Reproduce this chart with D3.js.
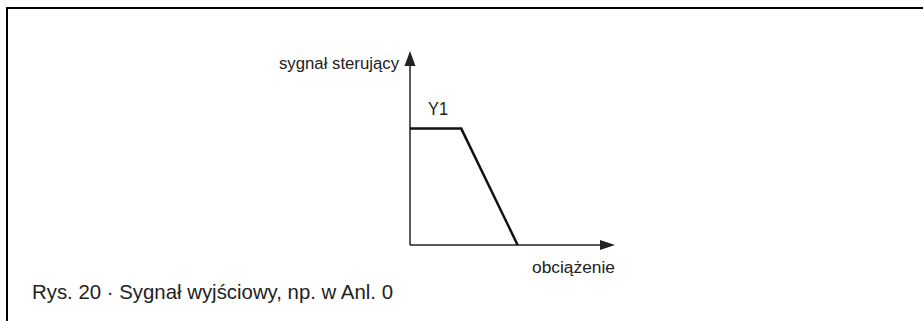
<!DOCTYPE html>
<html>
<head>
<meta charset="utf-8">
<script src="https://cdn.jsdelivr.net/npm/d3@7"></script>
<style>
  body { margin: 0; background: #fff; }
  text { font-family: "Liberation Sans", "DejaVu Sans", sans-serif; fill: #222; }
</style>
</head>
<body>
<div id="chart"></div>
<script>
// signal curve: load (x) vs control signal (y)
var loadValues = [0, 2.5, 5.25];
var signalValues = [6, 6, 0];
var curveLabel = "Y1";
var yAxisLabel = "sygnał sterujący";
var xAxisLabel = "obciążenie";
var caption = "Rys. 20 · Sygnał wyjściowy, np. w Anl. 0";

var W = 923, H = 321;

var svg = d3.select("#chart")
  .append("svg")
    .attr("width", W)
    .attr("height", H);

// frame (top + left only)
svg.append("path")
  .attr("d", "M7," + H + " V8 H" + W)
  .attr("fill", "none")
  .attr("stroke", "#000")
  .attr("stroke-width", 2);

var x = d3.scaleLinear().domain([0, 10]).range([410, 615]);
var y = d3.scaleLinear().domain([0, 10]).range([245, 51]);

var data = loadValues.map(function(d, i) { return {x: d, y: signalValues[i]}; });

// axes
svg.append("line")
  .attr("x1", x(0)).attr("y1", y(0))
  .attr("x2", x(10) - 10).attr("y2", y(0))
  .attr("stroke", "#222").attr("stroke-width", 1.5);
svg.append("line")
  .attr("x1", x(0)).attr("y1", y(0))
  .attr("x2", x(0)).attr("y2", y(10) + 10)
  .attr("stroke", "#222").attr("stroke-width", 1.5);

// arrow heads
svg.append("path")
  .attr("d", "M" + x(10) + "," + y(0) + " L" + (x(10) - 15) + "," + (y(0) - 5) + " L" + (x(10) - 15) + "," + (y(0) + 5) + "Z")
  .attr("fill", "#222");
svg.append("path")
  .attr("d", "M" + x(0) + "," + y(10) + " L" + (x(0) - 5.5) + "," + (y(10) + 15) + " L" + (x(0) + 5.5) + "," + (y(10) + 15) + "Z")
  .attr("fill", "#222");

// signal
svg.append("path")
  .datum(data)
  .attr("fill", "none")
  .attr("stroke", "#111")
  .attr("stroke-width", 2.5)
  .attr("stroke-linejoin", "miter")
  .attr("d", d3.line()
    .x(function(d) { return x(d.x); })
    .y(function(d) { return y(d.y); }));

// labels
svg.append("text")
  .attr("x", 399).attr("y", 69)
  .attr("text-anchor", "end")
  .attr("font-size", 16)
  .attr("textLength", 120)
  .attr("lengthAdjust", "spacingAndGlyphs")
  .text(yAxisLabel);

svg.append("text")
  .attr("x", 428).attr("y", 115)
  .attr("font-size", 18)
  .attr("textLength", 20)
  .attr("lengthAdjust", "spacingAndGlyphs")
  .text(curveLabel);

svg.append("text")
  .attr("x", 532).attr("y", 273)
  .attr("font-size", 16)
  .attr("textLength", 83)
  .attr("lengthAdjust", "spacingAndGlyphs")
  .text(xAxisLabel);

svg.append("text")
  .attr("x", 32).attr("y", 299)
  .attr("font-size", 21)
  .attr("textLength", 361)
  .attr("lengthAdjust", "spacingAndGlyphs")
  .text(caption);
</script>
</body>
</html>
